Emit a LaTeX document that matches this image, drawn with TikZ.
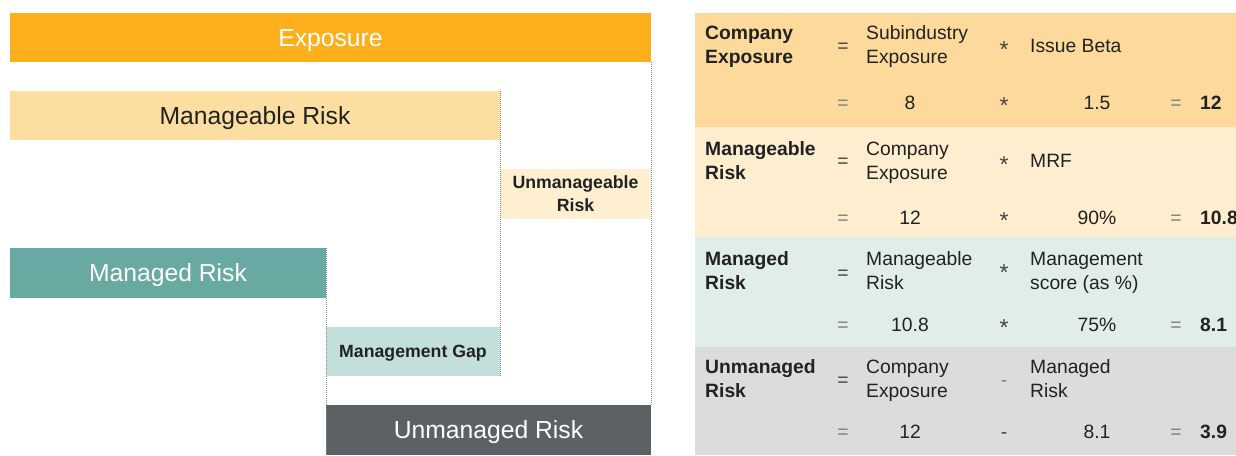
\documentclass[tikz,border=0pt]{standalone}
\usepackage{fontspec}
\setmainfont{Liberation Sans}
\definecolor{cExp}{HTML}{FDB01C}
\definecolor{cMgb}{HTML}{FCDFA0}
\definecolor{cUnm}{HTML}{FEEFD0}
\definecolor{cMgd}{HTML}{68A9A1}
\definecolor{cGap}{HTML}{C3DFDB}
\definecolor{cUnr}{HTML}{5C6165}
\definecolor{rA}{HTML}{FDDA9C}
\definecolor{rB}{HTML}{FEEDCE}
\definecolor{rC}{HTML}{E0EDEB}
\definecolor{rD}{HTML}{DCDCDE}
\definecolor{txt}{HTML}{222222}
\definecolor{opc}{HTML}{444444}
\definecolor{opl}{HTML}{808080}
\definecolor{lgray}{HTML}{8A8A8A}
\newcommand\fbig{\fontsize{24.7}{28}\selectfont}
\newcommand\fmid{\fontsize{17.7}{23}\selectfont\bfseries}
\newcommand\ftab{\fontsize{19.3}{24}\selectfont}
\newcommand\fstar{\fontsize{23}{24}\selectfont}
\begin{document}
\begin{tikzpicture}[x=1pt,y=-1pt,
  bar/.style={anchor=north west, inner sep=0pt, outer sep=0pt, align=center, text depth=0pt},
  bigbar/.style={bar, font=\fbig, text height=17.7pt},
  midbar/.style={bar, font=\fmid, text height=12.7pt},
  rowbg/.style={anchor=north west, inner sep=0pt, outer sep=0pt, minimum width=541pt},
  vline/.style={draw=lgray, line width=1pt, dash pattern=on 1.2pt off 0.8pt},
  lbl/.style={anchor=base west, inner sep=0pt, font=\ftab\bfseries, text=txt},
  term/.style={anchor=base west, inner sep=0pt, font=\ftab, text=txt},
  op/.style={anchor=base, inner sep=0pt, font=\ftab, text=opc},
  star/.style={anchor=base, inner sep=0pt, font=\fstar, text=opc},
  opv/.style={anchor=base, inner sep=0pt, font=\ftab, text=opl},
  val/.style={anchor=base, inner sep=0pt, font=\ftab, text=txt},
  res/.style={anchor=base west, inner sep=0pt, font=\ftab\bfseries, text=txt}
]
\useasboundingbox (0,0) rectangle (1236,455);
% ---- left diagram ----
\node[bigbar, fill=cExp, minimum width=641pt, minimum height=49pt, text=white] (exp) at (10,13) {Exposure};
\node[bigbar, fill=cMgb, minimum width=490pt, minimum height=49pt, text=txt] (mgb) at (10,91) {Manageable Risk};
\node[midbar, text height=35.7pt, fill=cUnm, minimum width=151pt, minimum height=50pt, text=txt] (unm) at (500,169) {Unmanageable\\Risk};
\node[bigbar, fill=cMgd, minimum width=316pt, minimum height=50pt, text=white] (mgd) at (10,248) {Managed Risk};
\node[midbar, fill=cGap, minimum width=174pt, minimum height=49pt, text=txt] (gap) at (326,327) {Management Gap};
\node[bigbar, fill=cUnr, minimum width=325pt, minimum height=50pt, text=white] (unr) at (326,405) {Unmanaged Risk};
\draw[vline] (mgb.north east) -- (gap.south east);
\draw[vline] (exp.south east) -- (unr.north east);
\draw[vline] (mgd.north east) -- (unr.south west);
% ---- table ----
\node[rowbg, fill=rA, minimum height=114pt] (r1) at (695,13) {};
\node[rowbg, fill=rB, minimum height=110pt] (r2) at (695,127) {};
\node[rowbg, fill=rC, minimum height=110pt] (r3) at (695,237) {};
\node[rowbg, fill=rD, minimum height=108pt] (r4) at (695,347) {};
% row 1
\node[lbl] (l1a) at (705,39) {Company};
\node[lbl] (l1b) at (705,63) {Exposure};
\node[op] (e1) at (843,52) {=};
\node[term] (t1a) at (866,39) {Subindustry};
\node[term] (t1b) at (866,63) {Exposure};
\node[star] (s1) at (1004,57) {*};
\node[term] (u1) at (1030,52) {Issue Beta};
\node[opv] (ev1) at (843,109) {=};
\node[val] (v1a) at (910,109) {8};
\node[star] (sv1) at (1004,113) {*};
\node[val] (v1b) at (1097,109) {1.5};
\node[opv] (er1) at (1176,109) {=};
\node[res] (x1) at (1200,109) {12};
% row 2
\node[lbl] (l2a) at (705,155) {Manageable};
\node[lbl] (l2b) at (705,179) {Risk};
\node[op] (e2) at (843,167) {=};
\node[term] (t2a) at (866,155) {Company};
\node[term] (t2b) at (866,179) {Exposure};
\node[star] (s2) at (1004,172) {*};
\node[term] (u2) at (1030,167) {MRF};
\node[opv] (ev2) at (843,224) {=};
\node[val] (v2a) at (910,224) {12};
\node[star] (sv2) at (1004,228) {*};
\node[val] (v2b) at (1097,224) {90\%};
\node[opv] (er2) at (1176,224) {=};
\node[res] (x2) at (1200,224) {10.8};
% row 3
\node[lbl] (l3a) at (705,265) {Managed};
\node[lbl] (l3b) at (705,289) {Risk};
\node[op] (e3) at (843,279) {=};
\node[term] (t3a) at (866,265) {Manageable};
\node[term] (t3b) at (866,289) {Risk};
\node[star] (s3) at (1004,280) {*};
\node[term] (u3a) at (1030,265) {Management};
\node[term] (u3b) at (1030,289) {score (as \%)};
\node[opv] (ev3) at (843,331) {=};
\node[val] (v3a) at (910,331) {10.8};
\node[star] (sv3) at (1004,335) {*};
\node[val] (v3b) at (1097,331) {75\%};
\node[opv] (er3) at (1176,331) {=};
\node[res] (x3) at (1200,331) {8.1};
% row 4
\node[lbl] (l4a) at (705,373) {Unmanaged};
\node[lbl] (l4b) at (705,397) {Risk};
\node[op] (e4) at (843,386) {=};
\node[term] (t4a) at (866,373) {Company};
\node[term] (t4b) at (866,397) {Exposure};
\node[opv] (s4) at (1004,386) {-};
\node[term] (u4a) at (1030,373) {Managed};
\node[term] (u4b) at (1030,397) {Risk};
\node[opv] (ev4) at (843,438) {=};
\node[val] (v4a) at (910,438) {12};
\node[op] (sv4) at (1004,438) {-};
\node[val] (v4b) at (1097,438) {8.1};
\node[opv] (er4) at (1176,438) {=};
\node[res] (x4) at (1200,438) {3.9};
\end{tikzpicture}
\end{document}
